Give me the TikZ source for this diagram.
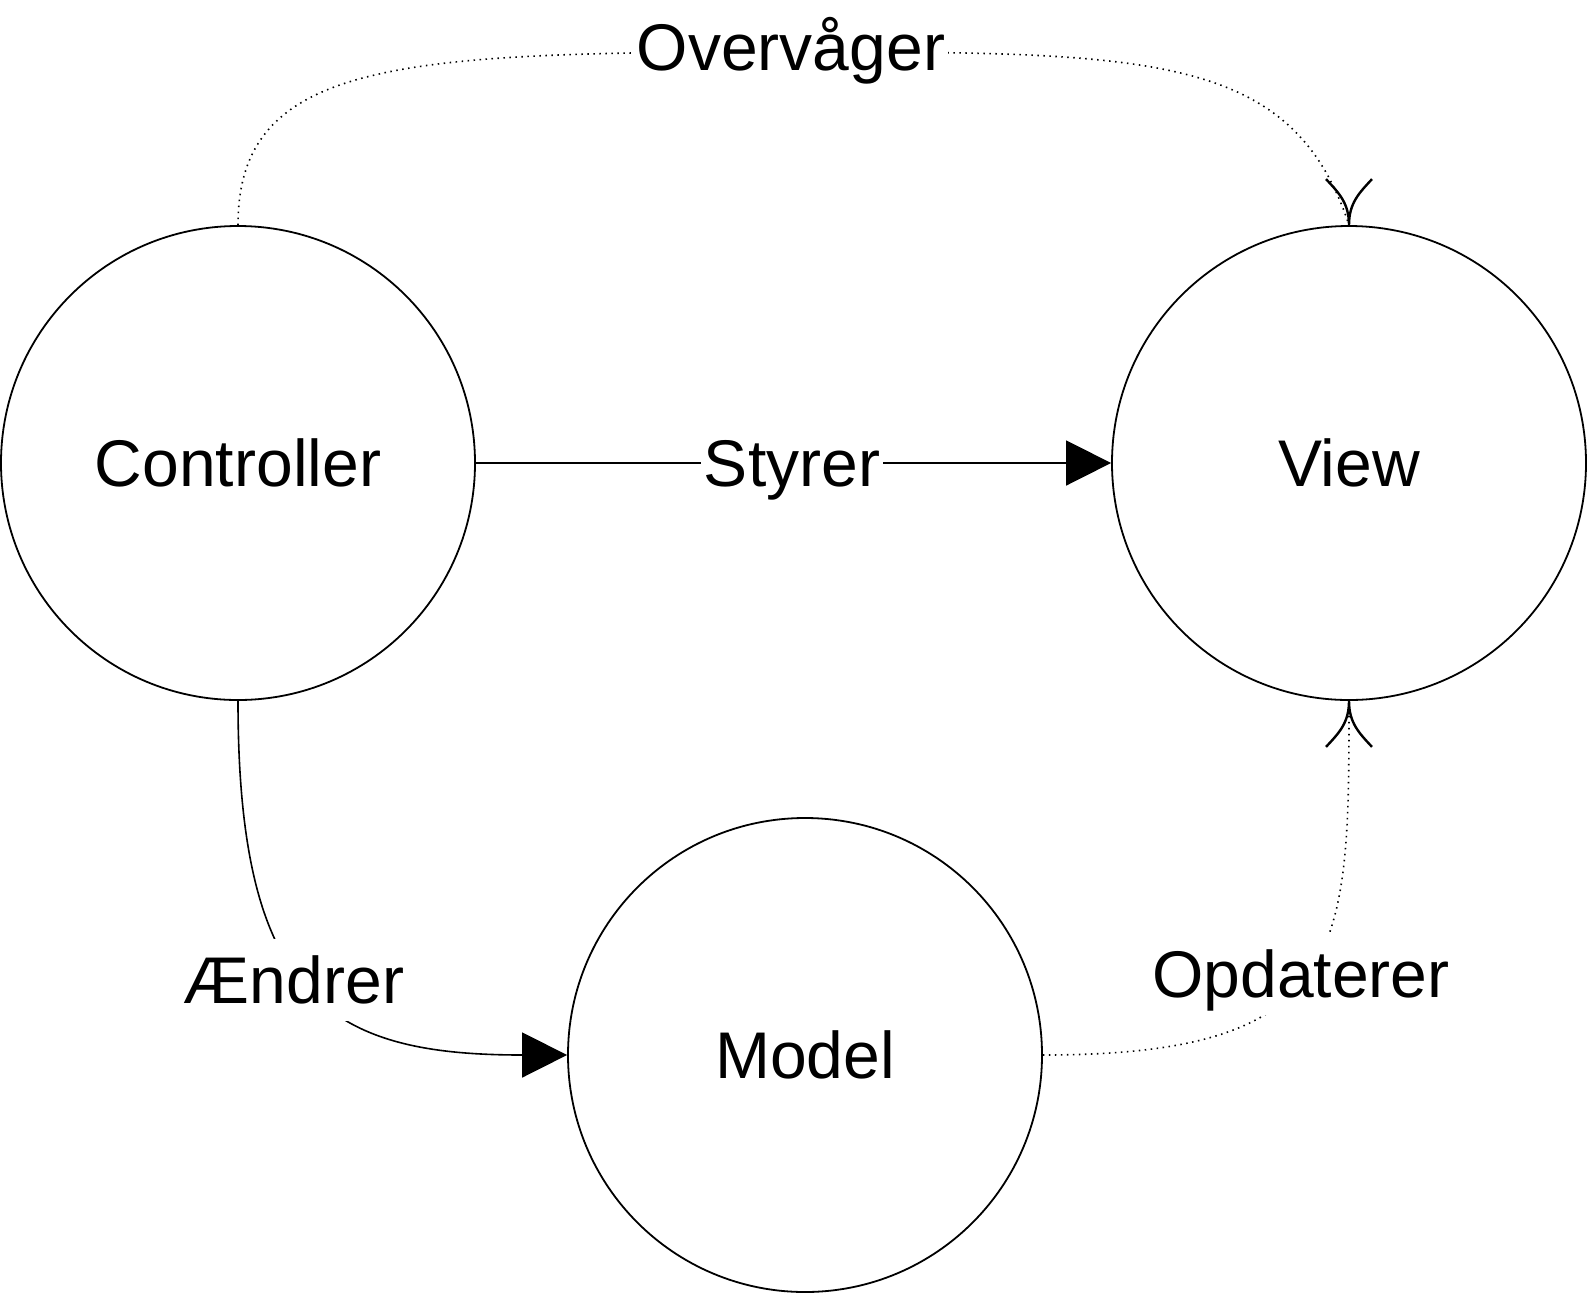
\documentclass[tikz,border=0pt]{standalone}
\usepackage{fontspec}
\setmainfont{Liberation Sans}
\usetikzlibrary{arrows.meta,calc}
\begin{document}
\begin{tikzpicture}[x=1pt,y=-1pt,
  state/.style={circle,draw,line width=1.8pt,minimum size=474pt,inner sep=0pt,font=\fontsize{66}{79}\selectfont},
  lbl/.style={fill=white,inner xsep=3pt,inner ysep=4pt,text height=60pt,text depth=14pt,font=\fontsize{66}{79}\selectfont,anchor=base},
  solidcon/.style={line width=1.6pt,-{Triangle[length=45pt,width=45pt]}},
  dotcon/.style={line width=1.6pt,dash pattern=on 1.5pt off 4.5pt},
  arm/.style={line width=2.4pt}
]
\useasboundingbox (0,0) rectangle (1588,1294);
\node[state] (ctrl) at (238,463) {Controller};
\node[state] (view) at (1349,463) {View};
\node[state] (model) at (805,1055) {Model};
\coordinate (otop) at (791,52);
% Styrer
\draw[solidcon] (ctrl.east) -- (view.west);
% Aendrer
\draw[solidcon] (ctrl.south) .. controls (238,1000) and (330,1055) .. (model.west);
% Overvaager
\draw[dotcon] (ctrl.north) .. controls (238,60) and (400,52) .. (otop)
  .. controls (1150,52) and (1292,52) .. (view.north);
% Opdaterer
\draw[dotcon] (model.east) .. controls (1349,1055) and (1349,950) .. (view.south);
% open arrow tips
\draw[arm] ($(view.north)+(-23,-46)$) .. controls ($(view.north)+(-10,-32)$) and ($(view.north)+(0,-22)$) .. (view.north)
  .. controls ($(view.north)+(0,-22)$) and ($(view.north)+(10,-32)$) .. ($(view.north)+(23,-46)$);
\draw[arm] ($(view.south)+(-23,46)$) .. controls ($(view.south)+(-10,32)$) and ($(view.south)+(0,22)$) .. (view.south)
  .. controls ($(view.south)+(0,22)$) and ($(view.south)+(10,32)$) .. ($(view.south)+(23,46)$);
% labels
\node[lbl] (lo) at (791,70) {Overvåger};
\node[lbl] (ls) at (792,486) {Styrer};
\node[lbl] (la) at (294,1003) {Ændrer};
\node[lbl] (lp) at (1301,997) {Opdaterer};
\end{tikzpicture}
\end{document}
